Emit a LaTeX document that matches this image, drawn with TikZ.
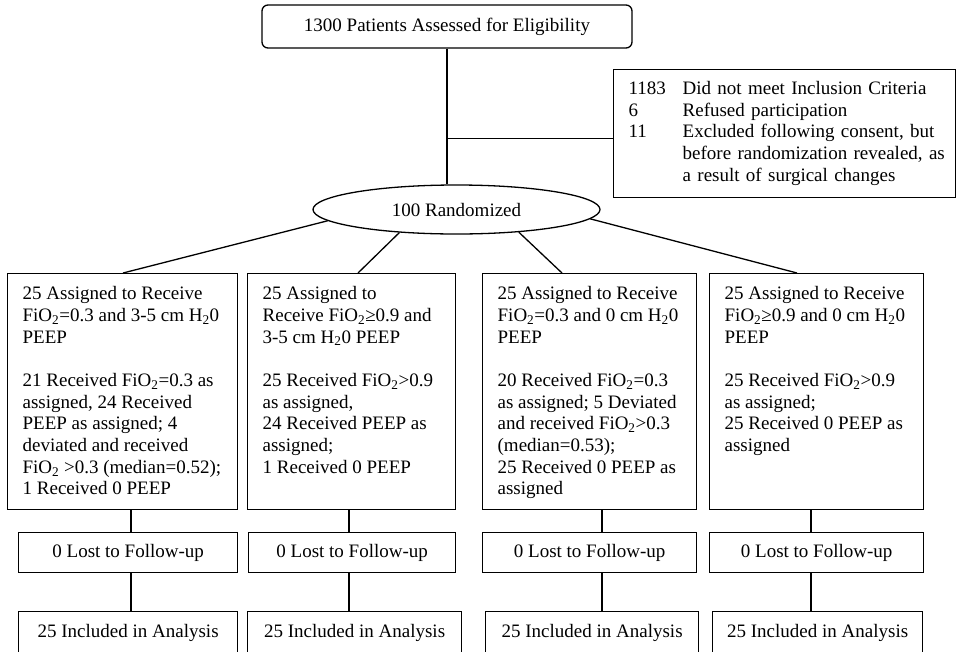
\documentclass[tikz,border=0pt]{standalone}
\usepackage{fontspec}
\setmainfont{Liberation Serif}
\usetikzlibrary{positioning,shapes.geometric}
\newcommand{\armlines}[2]{\makebox[#1][l]{\begin{tabular}[t]{@{}l@{}}#2\end{tabular}}}
\tikzset{
    stepbox/.style={draw, line width=1.3pt, font=\fontsize{19}{21.7}\selectfont},
    armbox/.style={stepbox, anchor=north west, inner xsep=15pt, inner ysep=12pt,
        text height=14pt, text depth=198pt},
    lostbox/.style={stepbox, anchor=north west, minimum height=40pt},
    inclbox/.style={stepbox, anchor=north west, minimum height=42pt},
    link/.style={line width=1.3pt}
}

\begin{document}
\begin{tikzpicture}[x=1pt,y=-1pt]
    \useasboundingbox (0,0) rectangle (957,651);
    \node[stepbox, rounded corners=6pt, minimum width=370pt, minimum height=43pt] (assess) at (447,26.5) {1300 Patients Assessed for Eligibility};
    \node[stepbox, anchor=north west, text width=312pt, align=left, inner xsep=15pt, minimum height=128pt] (excl) at (613,69)
        {\begin{tabular}{@{}p{54pt}@{}l@{}}
        1183 & Did not meet Inclusion Criteria\\
        6 & Refused participation\\
        11 & Excluded following consent, but\\
         & before randomization revealed, as\\
         & a result of surgical changes
        \end{tabular}};
    \node[stepbox, ellipse, minimum width=287pt, minimum height=49pt, inner sep=0pt] (rand) at (456.5,209.5) {100 Randomized};

    % four arms
    \node[armbox] (arm1) at (7,273) {\armlines{200pt}{25 Assigned to Receive\\
        FiO\textsubscript{2}=0.3 and 3-5 cm H\textsubscript{2}0\\
        PEEP\\[21.7pt]
        21 Received FiO\textsubscript{2}=0.3 as\\
        assigned, 24 Received\\
        PEEP as assigned; 4\\
        deviated and received\\
        FiO\textsubscript{2} >0.3 (median=0.52);\\
        1 Received 0 PEEP}};
    \node[armbox] (arm2) at (247,273) {\armlines{178pt}{25 Assigned to\\
        Receive FiO\textsubscript{2}≥0.9 and\\
        3-5 cm H\textsubscript{2}0 PEEP\\[21.7pt]
        25 Received FiO\textsubscript{2}>0.9\\
        as assigned,\\
        24 Received PEEP as\\
        assigned;\\
        1 Received 0 PEEP}};
    \node[armbox] (arm3) at (482,273) {\armlines{184pt}{25 Assigned to Receive\\
        FiO\textsubscript{2}=0.3 and 0 cm H\textsubscript{2}0\\
        PEEP\\[21.7pt]
        20 Received FiO\textsubscript{2}=0.3\\
        as assigned; 5 Deviated\\
        and received FiO\textsubscript{2}>0.3\\
        (median=0.53);\\
        25 Received 0 PEEP as\\
        assigned}};
    \node[armbox] (arm4) at (709,273) {\armlines{184pt}{25 Assigned to Receive\\
        FiO\textsubscript{2}≥0.9 and 0 cm H\textsubscript{2}0\\
        PEEP\\[21.7pt]
        25 Received FiO\textsubscript{2}>0.9\\
        as assigned;\\
        25 Received 0 PEEP as\\
        assigned}};

    \node[lostbox, minimum width=219pt] (lost1) at (18,532) {0 Lost to Follow-up};
    \node[lostbox, minimum width=207pt] (lost2) at (248,532) {0 Lost to Follow-up};
    \node[lostbox, minimum width=214pt] (lost3) at (482,532) {0 Lost to Follow-up};
    \node[lostbox, minimum width=214pt] (lost4) at (709,532) {0 Lost to Follow-up};

    \node[inclbox, minimum width=219pt] (incl1) at (18,611) {25 Included in Analysis};
    \node[inclbox, minimum width=214pt] (incl2) at (247,611) {25 Included in Analysis};
    \node[inclbox, minimum width=213pt] (incl3) at (485,611) {25 Included in Analysis};
    \node[inclbox, minimum width=210pt] (incl4) at (712,611) {25 Included in Analysis};

    \draw[link] (assess.south) -- (assess.south |- rand.north);
    \draw[link] ([yshift=-5pt]excl.west) -- ([yshift=-5pt]excl.west -| assess.south);
    \foreach \i/\ang/\tx in {1/185/123, 2/202/358, 3/340/562, 4/356/797}
        \draw[link] (rand.\ang) -- (arm\i.north -| \tx,0);
    \foreach \i/\dx in {1/131, 2/349, 3/602, 4/811} {
        \draw[link] (arm\i.south -| \dx,0) -- (lost\i.north -| \dx,0);
        \draw[link] (lost\i.south -| \dx,0) -- (incl\i.north -| \dx,0);
    }
\end{tikzpicture}
\end{document}
